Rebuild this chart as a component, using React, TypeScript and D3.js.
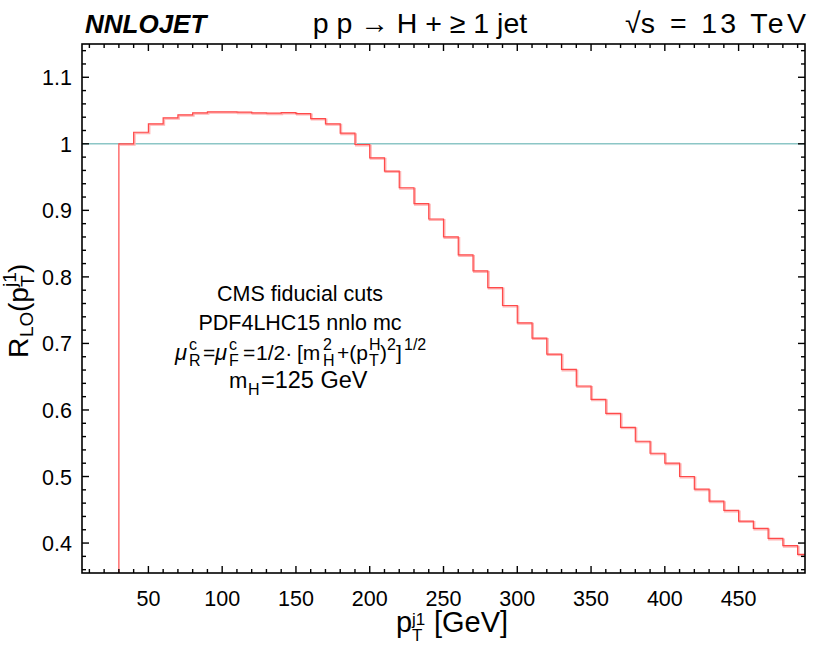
import React, { useEffect, useRef } from 'react';
import * as d3 from 'd3';

// bin edges (GeV) and LO ratio per bin
const binEdges = [30, 40, 50, 60, 70, 80, 90, 100, 110, 120, 130, 140, 150, 160, 170, 180, 190, 200, 210, 220, 230, 240, 250, 260, 270, 280, 290, 300, 310, 320, 330, 340, 350, 360, 370, 380, 390, 400, 410, 420, 430, 440, 450, 460, 470, 480, 490, 500];
const ratioLO = [1.0, 1.0174, 1.03, 1.039, 1.0435, 1.0465, 1.048, 1.048, 1.0475, 1.0465, 1.046, 1.047, 1.0455, 1.038, 1.03, 1.016, 0.999, 0.979, 0.959, 0.934, 0.91, 0.887, 0.86, 0.833, 0.809, 0.784, 0.757, 0.731, 0.708, 0.684, 0.661, 0.636, 0.616, 0.595, 0.574, 0.553, 0.535, 0.52, 0.5, 0.481, 0.463, 0.449, 0.433, 0.422, 0.407, 0.396, 0.383];

const xMajor = [50, 100, 150, 200, 250, 300, 350, 400, 450];
const xMinor = d3.range(10, 500, 10);
const yMajor = [0.4, 0.5, 0.6, 0.7, 0.8, 0.9, 1, 1.1];
const yMinor = d3.range(0.36, 1.15, 0.02);
const xDomain = [5, 495];
const yDomain = [0.355, 1.15];

const W = 830;
const H = 646;
const margin = { left: 82, right: 25, top: 44, bottom: 73 };
const FONT = '"Liberation Sans", Arial, Helvetica, sans-serif';

// one piece of a formula placed at its own spot
const T = ({ x, y, s, it, children }: { x: number; y: number; s: number; it?: boolean; children: React.ReactNode }) => (
  <text x={x} y={y} fontSize={s} fontStyle={it ? 'italic' : 'normal'}>{children}</text>
);

const App = () => {
  const gRef = useRef<SVGGElement>(null);

  useEffect(() => {
    document.body.style.margin = '0';
    if (!gRef.current) return;
    const g = d3.select(gRef.current);
    g.selectAll('*').remove();

    const x = d3.scaleLinear().domain(xDomain).range([margin.left, W - margin.right]);
    const y = d3.scaleLinear().domain(yDomain).range([H - margin.bottom, margin.top]);
    const x0 = x.range()[0], x1 = x.range()[1];
    const y0 = y.range()[0], y1 = y.range()[1];

    // reference line at 1
    g.append('line')
      .attr('x1', x0).attr('x2', x1)
      .attr('y1', y(1)).attr('y2', y(1))
      .attr('stroke', '#8cc6c6').attr('stroke-width', 1.5);

    // step histogram
    const pts: [number, number][] = [[binEdges[0], yDomain[0]]];
    ratioLO.forEach((v, i) => {
      pts.push([binEdges[i], v]);
      pts.push([binEdges[i + 1], v]);
    });
    const clip = g.append('clipPath').attr('id', 'plotclip');
    clip.append('rect').attr('x', x0).attr('y', y1).attr('width', x1 - x0).attr('height', y0 - y1);

    const line = d3.line<[number, number]>().x(d => x(d[0])).y(d => y(d[1]));
    const plot = g.append('g').attr('clip-path', 'url(#plotclip)');
    plot.append('path')
      .attr('d', line(pts.slice(1)))
      .attr('fill', 'none')
      .attr('stroke', '#ffb4b4')
      .attr('stroke-width', 2)
      .attr('transform', 'translate(1,1)');
    plot.append('path')
      .attr('d', line(pts))
      .attr('fill', 'none')
      .attr('stroke', '#ff4a4a')
      .attr('stroke-width', 1.2);

    // frame
    g.append('rect')
      .attr('x', x0).attr('y', y1)
      .attr('width', x1 - x0).attr('height', y0 - y1)
      .attr('fill', 'none').attr('stroke', '#000').attr('stroke-width', 1.6);

    const ticks = g.append('g').attr('stroke', '#000').attr('stroke-width', 1.4);
    const addX = (vals: number[], len: number) => {
      vals.forEach(v => {
        ticks.append('line').attr('x1', x(v)).attr('x2', x(v)).attr('y1', y0).attr('y2', y0 - len);
        ticks.append('line').attr('x1', x(v)).attr('x2', x(v)).attr('y1', y1).attr('y2', y1 + len);
      });
    };
    const addY = (vals: number[], len: number) => {
      vals.forEach(v => {
        ticks.append('line').attr('y1', y(v)).attr('y2', y(v)).attr('x1', x0).attr('x2', x0 + len);
        ticks.append('line').attr('y1', y(v)).attr('y2', y(v)).attr('x1', x1).attr('x2', x1 - len);
      });
    };
    addX(xMinor.filter(v => !xMajor.includes(v)), 4);
    addX(xMajor, 7);
    addY(yMinor.filter(v => !yMajor.some(m => Math.abs(m - v) < 1e-6)), 4);
    addY(yMajor, 7);

    g.append('g').selectAll('text').data(xMajor).join('text')
      .attr('x', d => x(d)).attr('y', y0 + 33)
      .attr('text-anchor', 'middle')
      .style('font-family', FONT).style('font-size', '21.5px')
      .text(d => d);

    g.append('g').selectAll('text').data(yMajor).join('text')
      .attr('x', x0 - 10).attr('y', d => y(d) + 8)
      .attr('text-anchor', 'end')
      .style('font-family', FONT).style('font-size', '21.5px')
      .text(d => d3.format('~g')(d));
  }, []);

  return (
    <svg width={W} height={H} style={{ display: 'block', background: '#fff' }} fontFamily={FONT}>
      <g ref={gRef} />
      <text x={85} y={33} fontSize={26} fontWeight="bold" fontStyle="italic">NNLOJET</text>
      <text x={420} y={33} fontSize={28.5} textAnchor="middle">p p → H + ≥ 1 jet</text>
      <T x={625} y={33} s={28.5}>√s</T>
      <text x={670} y={33} fontSize={28.5} textLength={136} lengthAdjust="spacing">= 13 TeV</text>

      {/* x axis title */}
      <T x={396} y={632} s={29}>p</T>
      <T x={412} y={641} s={17}>T</T>
      <T x={412} y={625} s={17}>j1</T>
      <T x={434} y={632} s={29}>[GeV]</T>

      {/* y axis title */}
      <g transform="translate(28,358) rotate(-90)">
        <T x={0} y={0} s={28}>R</T>
        <T x={21} y={5} s={19}>LO</T>
        <T x={46} y={0} s={28}>(p</T>
        <T x={71} y={6} s={19}>T</T>
        <T x={71} y={-12} s={19}>j1</T>
        <T x={85} y={0} s={28}>)</T>
      </g>

      {/* annotation */}
      <g fontSize={21.5} textAnchor="middle">
        <text x={300} y={301}>CMS fiducial cuts</text>
        <text x={300} y={330}>PDF4LHC15 nnlo mc</text>
      </g>
      <g>
        <T x={175} y={360} s={22} it>μ</T>
        <T x={189} y={366} s={16}>R</T>
        <T x={189} y={350} s={16}>c</T>
        <T x={203} y={360} s={21}>=</T>
        <T x={215} y={360} s={22} it>μ</T>
        <T x={229} y={366} s={16}>F</T>
        <T x={229} y={350} s={16}>c</T>
        <T x={243} y={360} s={21}>=</T>
        <T x={256} y={360} s={21}>1/2·</T>
        <T x={297} y={360} s={21}>[m</T>
        <T x={323} y={350} s={16}>2</T>
        <T x={323} y={366} s={16}>H</T>
        <T x={337} y={360} s={21}>+(p</T>
        <T x={369} y={350} s={16}>H</T>
        <T x={369} y={366} s={16}>T</T>
        <T x={380} y={360} s={21}>)</T>
        <T x={387} y={350} s={16}>2</T>
        <T x={396} y={360} s={21}>]</T>
        <T x={404} y={350} s={16}>1/2</T>
      </g>
      <g>
        <T x={229} y={388} s={22}>m</T>
        <T x={248} y={395} s={16}>H</T>
        <T x={261} y={388} s={23.5}>=125 GeV</T>
      </g>
    </svg>
  );
};

export default App;
